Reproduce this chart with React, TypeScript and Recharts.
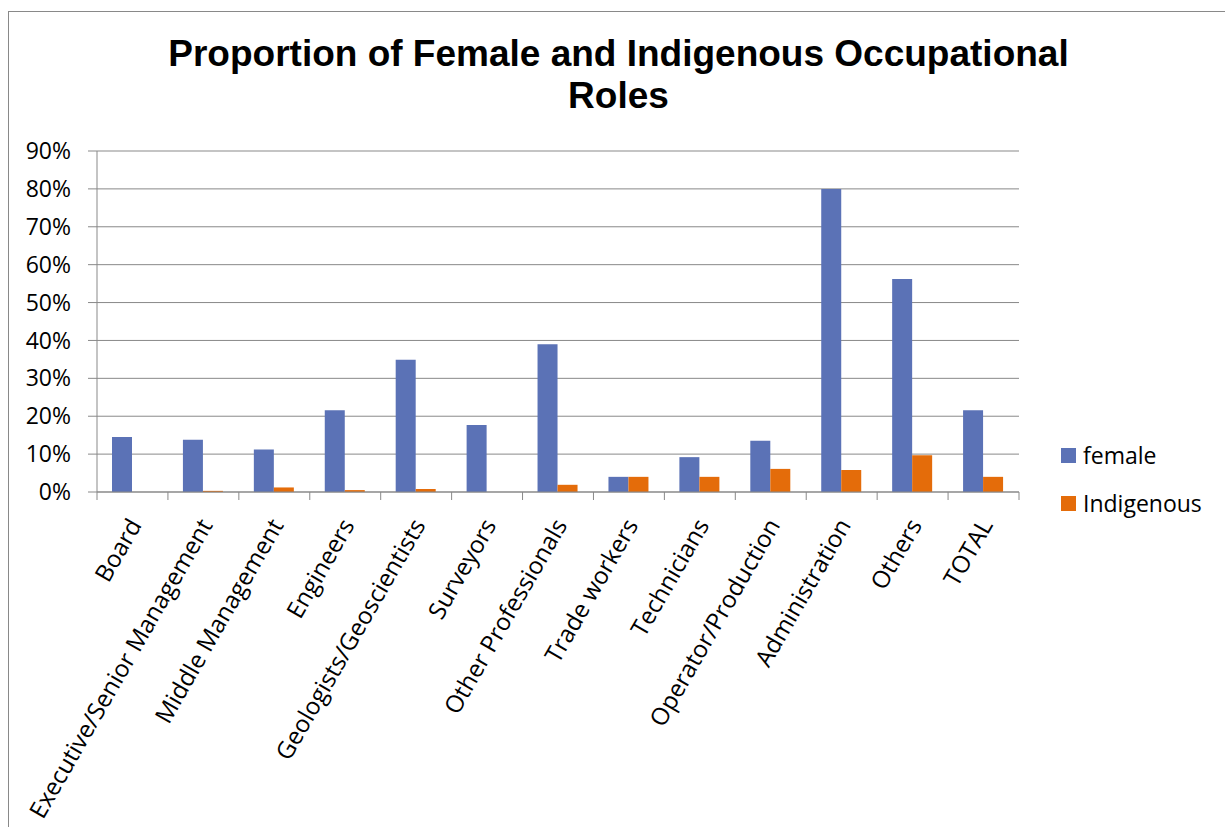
import React from 'react';
import { BarChart, Bar, XAxis, YAxis, CartesianGrid, Legend } from 'recharts';

// values, in percent
const categories = [
  'Board',
  'Executive/Senior Management',
  'Middle Management',
  'Engineers',
  'Geologists/Geoscientists',
  'Surveyors',
  'Other Professionals',
  'Trade workers',
  'Technicians',
  'Operator/Production',
  'Administration',
  'Others',
  'TOTAL',
];
const femaleShare = [14.5, 13.8, 11.2, 21.6, 34.9, 17.7, 39.0, 4.0, 9.2, 13.5, 80.0, 56.2, 21.6];
const indigenousShare = [0, 0.3, 1.2, 0.5, 0.8, 0, 1.9, 4.0, 4.0, 6.1, 5.8, 9.7, 4.0];
const percentTicks = [0, 10, 20, 30, 40, 50, 60, 70, 80, 90];
const seriesLabels = ['female', 'Indigenous'];

const BLUE = '#5B72B6';
const ORANGE = '#E46C0A';
const AXIS = '#898989';
const LABEL_FONT = '"Open Sans", sans-serif';

const data = categories.map((name, i) => ({
  name,
  female: femaleShare[i],
  indigenous: indigenousShare[i],
}));

// excel puts the tick marks between categories, so draw them here
const CategoryTick = (props: any) => {
  const { x, y, payload, index } = props;
  const half = payload && payload.offset ? payload.offset : 922 / categories.length / 2;
  const isLast = index === categories.length - 1;
  return (
    <g>
      <line x1={x - half} x2={x - half} y1={y - 8} y2={y} stroke={AXIS} strokeWidth={1} />
      {isLast && <line x1={x + half} x2={x + half} y1={y - 8} y2={y} stroke={AXIS} strokeWidth={1} />}
      <text
        transform={`translate(${x + 10},${y + 25}) rotate(-60)`}
        textAnchor="end"
        fontFamily={LABEL_FONT}
        fontSize={24}
        fill="#000"
      >
        {payload.value}
      </text>
    </g>
  );
};

const SeriesLegend = () => (
  <div style={{ fontFamily: LABEL_FONT, fontSize: 23, color: '#000' }}>
    {seriesLabels.map((label, i) => (
      <div key={label} style={{ height: 48, display: 'flex', alignItems: 'center' }}>
        <span style={{ width: 15, height: 15, background: i === 0 ? BLUE : ORANGE, marginRight: 7 }} />
        <span>{label}</span>
      </div>
    ))}
  </div>
);

export default function App() {
  return (
    <div
      style={{
        position: 'absolute',
        left: 8,
        top: 11,
        width: 1217,
        height: 816,
        boxSizing: 'border-box',
        borderTop: `1px solid ${AXIS}`,
        borderLeft: `1px solid ${AXIS}`,
        background: '#fff',
        overflow: 'hidden',
      }}
    >
      <div
        style={{
          position: 'absolute',
          top: 21,
          left: 0,
          width: 1219,
          textAlign: 'center',
          fontFamily: '"Liberation Sans", Arial, sans-serif',
          fontWeight: 'bold',
          fontSize: 37,
          lineHeight: '42px',
          color: '#000',
          whiteSpace: 'nowrap',
        }}
      >
        Proportion of Female and Indigenous Occupational
        <br />
        Roles
      </div>
      <BarChart
        width={1216}
        height={815}
        data={data}
        margin={{ top: 139, right: 206, bottom: 0, left: 0 }}
        barGap={0}
        barSize={20}
      >
        <CartesianGrid vertical={false} stroke={AXIS} strokeDasharray="" />
        <XAxis
          dataKey="name"
          interval={0}
          height={335}
          stroke={AXIS}
          tickLine={false}
          tickSize={8}
          tickMargin={0}
          tick={<CategoryTick />}
        />
        <YAxis
          width={88}
          domain={[0, 90]}
          ticks={percentTicks}
          interval={0}
          tickFormatter={(v: number) => `${v}%`}
          stroke={AXIS}
          tickSize={9}
          tickMargin={17}
          tick={{ fill: '#000', fontFamily: LABEL_FONT, fontSize: 23 }}
        />
        <Legend
          layout="vertical"
          align="center"
          verticalAlign="middle"
          content={<SeriesLegend />}
          wrapperStyle={{ left: 1052, top: 419, width: 160 }}
        />
        <Bar dataKey="female" name="female" fill={BLUE} isAnimationActive={false} />
        <Bar dataKey="indigenous" name="Indigenous" fill={ORANGE} isAnimationActive={false} />
      </BarChart>
    </div>
  );
}
